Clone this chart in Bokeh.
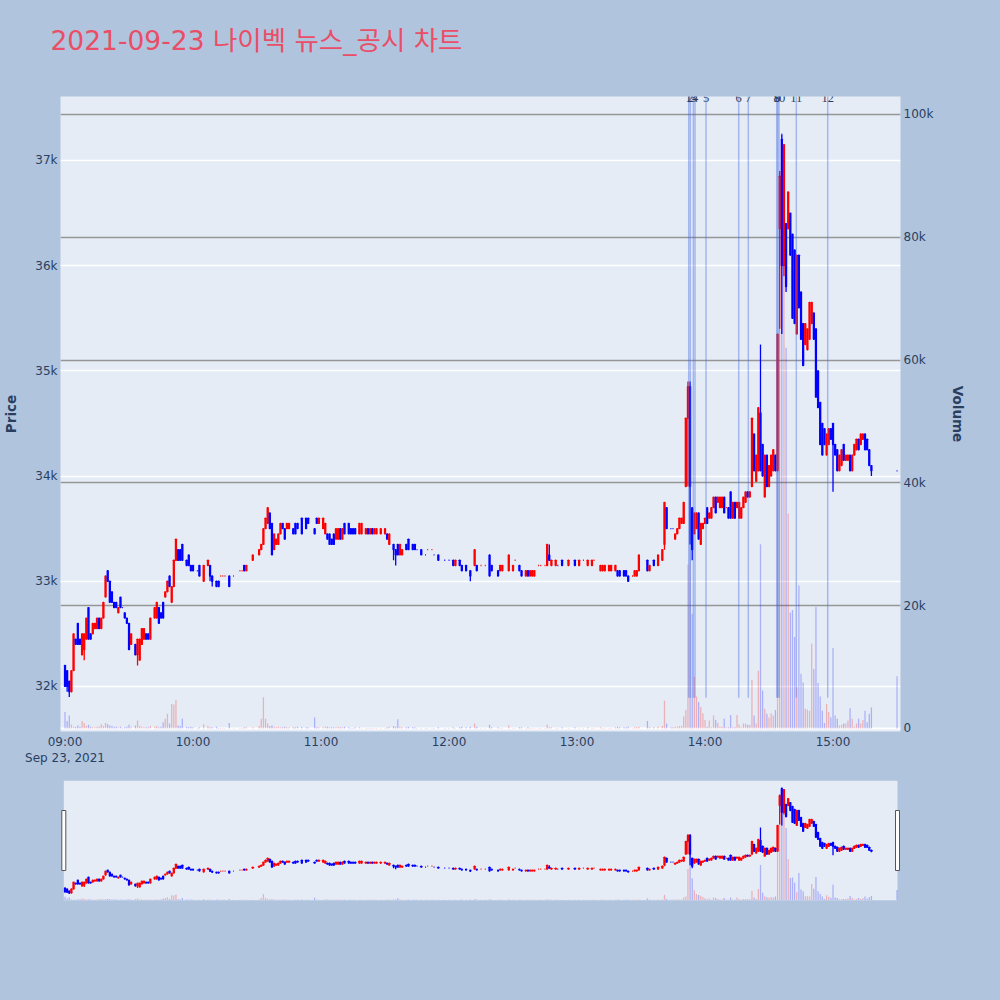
import pandas as pd
from bokeh.plotting import figure
from bokeh.layouts import column
from bokeh.models import (ColumnDataSource, Range1d, LinearAxis, FixedTicker, NumeralTickFormatter,
                          DatetimeTickFormatter, Grid, BoxAnnotation, LabelSet, Span, Title,
                          GlobalInlineStyleSheet)
from bokeh.embed import file_html
from bokeh.resources import INLINE

TITLE = "2021-09-23 나이벡 뉴스_공시 차트"
DAY = "2021-09-23"

# ---------------- 1-minute candles (time, open, high, low, close, volume) ----------------
T09 = ["09:00","09:01","09:02","09:03","09:04","09:05","09:06","09:07","09:08","09:09",
       "09:10","09:11","09:12","09:13","09:14","09:15","09:16","09:17","09:18","09:19",
       "09:20","09:21","09:22","09:23","09:24","09:25","09:26","09:27","09:28","09:29",
       "09:30","09:31","09:33","09:34","09:35","09:36","09:37","09:38","09:39","09:40",
       "09:42","09:43","09:44","09:45","09:46","09:47","09:48","09:49","09:50","09:51",
       "09:52","09:53","09:54","09:55","09:57","09:58","09:59"]
O09 = [32200,32150,32050,31950,32150,32450,32600,32450,32300,32350,
       32450,32750,32500,32500,32550,32550,32650,32550,32650,32850,
       33100,33000,32900,32800,32800,32700,32850,32750,32700,32650,
       32600,32400,32400,32300,32250,32400,32450,32500,32500,32450,
       32650,32650,32750,32700,32800,32850,32900,33050,32800,32950,
       33200,33300,33300,33350,33200,33250,33150]
H09 = [32200,32150,32050,32150,32500,32450,32600,32450,32500,32500,
       32650,32750,32500,32600,32600,32650,32650,32650,32800,33050,
       33100,33000,32900,32800,32800,32750,32850,32750,32700,32650,
       32600,32500,32400,32450,32450,32550,32550,32500,32500,32650,
       32750,32800,32750,32700,32800,32900,33000,33050,32950,33200,
       33400,33300,33300,33350,33200,33250,33150]
L09 = [32000,31950,31900,31950,32150,32400,32400,32400,32300,32250,
       32450,32450,32450,32500,32550,32550,32550,32550,32650,32850,
       33000,32800,32800,32750,32750,32700,32750,32750,32650,32600,
       32350,32400,32300,32200,32250,32400,32450,32450,32450,32450,
       32650,32650,32600,32650,32650,32850,32900,32950,32800,32950,
       33200,33200,33200,33200,33150,33150,33100]
C09 = [32000,32000,31950,32150,32500,32400,32400,32400,32500,32500,
       32650,32450,32450,32600,32600,32650,32550,32650,32800,33050,
       33000,32800,32800,32750,32750,32750,32750,32750,32650,32600,
       32350,32500,32300,32450,32450,32550,32550,32450,32450,32650,
       32750,32800,32600,32650,32650,32900,33000,32950,32950,33200,
       33400,33200,33200,33200,33150,33150,33100]
V09 = [2700,1200,2100,650,300,250,500,300,1200,900,
       400,600,300,200,200,300,300,700,400,900,
       700,500,400,300,300,200,300,100,200,300,
       600,300,500,1300,400,300,200,200,200,400,
       300,400,200,300,1000,1600,2400,800,4000,3900,
       4600,500,400,1600,300,200,300]

T10 = ["10:00","10:02","10:03","10:05","10:07","10:08","10:09","10:11","10:12","10:13",
       "10:14","10:15","10:17","10:19","10:22","10:23","10:24","10:25","10:28","10:31",
       "10:32","10:33","10:34","10:35","10:36","10:37","10:38","10:39","10:40","10:41",
       "10:42","10:43","10:44","10:45","10:47","10:48","10:49","10:51","10:53","10:54",
       "10:57","10:58","10:59"]
O10 = [33150,33100,33150,33000,33150,33150,33050,33000,33000,33050,
       33050,33050,33050,33050,33100,33100,33150,33100,33200,33250,
       33300,33350,33500,33550,33650,33550,33300,33350,33350,33450,
       33550,33500,33500,33500,33500,33550,33550,33600,33600,33600,
       33500,33600,33550]
H10 = [33150,33100,33150,33150,33200,33150,33050,33000,33000,33050,
       33050,33050,33050,33050,33100,33100,33150,33150,33250,33300,
       33350,33500,33600,33700,33650,33550,33450,33400,33450,33550,
       33550,33500,33550,33550,33500,33550,33550,33600,33600,33600,
       33500,33600,33600]
L10 = [33100,33100,33050,33000,33150,33000,32950,32950,32950,33050,
       33050,33050,32950,33050,33100,33100,33100,33100,33200,33250,
       33300,33350,33500,33550,33500,33250,33300,33350,33350,33450,
       33500,33400,33500,33500,33450,33450,33500,33450,33500,33550,
       33450,33550,33550]
C10 = [33100,33100,33050,33150,33200,33050,33000,32950,32950,33050,
       33050,33050,32950,33050,33100,33100,33100,33150,33250,33300,
       33350,33500,33600,33700,33500,33250,33450,33400,33450,33550,
       33500,33400,33550,33550,33450,33450,33500,33450,33500,33550,
       33450,33550,33600]
V10 = [200,100,200,700,400,200,200,300,100,100,
       100,100,900,100,100,100,200,200,200,400,
       1600,5100,1600,800,400,500,300,200,300,200,
       200,300,200,200,200,200,300,300,200,200,
       1800,200,200]

T11 = ["11:01","11:02","11:03","11:04","11:05","11:06","11:07","11:08","11:09","11:10",
       "11:11","11:13","11:14","11:15","11:16","11:18","11:19","11:21","11:22","11:23",
       "11:24","11:25","11:26","11:28","11:30","11:31","11:32","11:34","11:35","11:36",
       "11:37","11:38","11:40","11:41","11:43","11:44","11:45","11:47","11:49","11:50",
       "11:52","11:53","11:55","11:58"]
O11 = [33500,33450,33450,33450,33400,33450,33400,33400,33500,33400,
       33550,33550,33500,33500,33500,33450,33450,33450,33500,33450,
       33500,33450,33450,33450,33450,33450,33350,33350,33300,33350,
       33250,33250,33350,33400,33350,33350,33300,33300,33250,33300,
       33300,33250,33250,33200]
H11 = [33600,33550,33450,33450,33400,33450,33500,33500,33500,33500,
       33550,33550,33500,33500,33500,33550,33550,33500,33500,33500,
       33500,33500,33500,33500,33500,33450,33450,33350,33300,33350,
       33350,33300,33350,33400,33350,33350,33300,33300,33250,33300,
       33300,33250,33250,33200]
L11 = [33500,33450,33400,33350,33350,33350,33400,33400,33400,33400,
       33450,33450,33450,33450,33450,33450,33450,33450,33450,33450,
       33450,33450,33450,33450,33450,33400,33350,33200,33150,33250,
       33250,33250,33300,33300,33300,33300,33300,33250,33250,33300,
       33300,33250,33200,33200]
C11 = [33600,33550,33400,33350,33350,33350,33500,33500,33400,33500,
       33450,33450,33450,33450,33450,33550,33550,33500,33450,33500,
       33450,33500,33500,33500,33500,33400,33450,33300,33250,33250,
       33350,33300,33300,33300,33300,33300,33300,33250,33250,33300,
       33300,33250,33200,33200]
V11 = [200,300,300,200,200,200,200,300,200,200,
       300,200,100,100,200,200,100,100,100,100,
       100,100,100,100,100,200,300,400,300,1500,
       300,200,200,300,200,200,100,100,100,100,
       100,100,200,100]

T12 = ["12:00","12:02","12:03","12:05","12:06","12:08","12:10","12:12","12:13","12:15",
       "12:17","12:19","12:20","12:23","12:24","12:25","12:28","12:30","12:31","12:33",
       "12:34","12:36","12:37","12:38","12:39","12:40","12:42","12:43","12:45","12:46",
       "12:47","12:48","12:50","12:51","12:53","12:56","12:59"]
O12 = [33200,33200,33150,33200,33150,33150,33100,33150,33150,33150,
       33150,33250,33150,33100,33100,33100,33100,33100,33200,33150,
       33100,33050,33100,33050,33050,33050,33150,33150,33150,33150,
       33250,33150,33150,33150,33200,33150,33200]
H12 = [33200,33200,33200,33200,33150,33150,33100,33300,33150,33150,
       33150,33250,33150,33100,33150,33150,33250,33150,33200,33150,
       33100,33100,33100,33100,33100,33100,33150,33150,33150,33350,
       33350,33200,33200,33150,33200,33200,33200]
L12 = [33200,33150,33150,33150,33100,33100,33000,33150,33100,33150,
       33150,33050,33100,33050,33100,33100,33100,33100,33200,33100,
       33050,33050,33050,33050,33050,33050,33150,33150,33150,33150,
       33200,33150,33150,33150,33150,33150,33150]
C12 = [33200,33150,33200,33150,33100,33100,33050,33300,33100,33150,
       33150,33050,33100,33050,33150,33150,33250,33150,33200,33100,
       33050,33100,33050,33100,33100,33100,33150,33150,33150,33350,
       33200,33200,33200,33150,33150,33200,33150]
V12 = [100,200,100,200,300,200,300,800,300,100,
       100,600,200,200,100,100,500,100,100,200,
       200,100,200,100,100,100,100,100,100,600,
       200,200,100,100,200,100,200]

T13 = ["13:01","13:03","13:05","13:07","13:08","13:11","13:12","13:13","13:15","13:16",
       "13:18","13:19","13:20","13:22","13:23","13:24","13:26","13:27","13:28","13:29",
       "13:33","13:34","13:36","13:38","13:40","13:41","13:42","13:44","13:45","13:46",
       "13:47","13:48","13:49","13:50","13:51","13:52","13:53","13:54","13:55","13:56",
       "13:57","13:58","13:59"]
O13 = [33150,33200,33150,33150,33200,33100,33100,33100,33100,33100,
       33100,33100,33100,33100,33100,33050,33050,33050,33050,33100,
       33200,33100,33200,33150,33200,33350,33700,33500,33500,33400,
       33450,33500,33550,33550,33900,34550,34850,33700,33450,33500,
       33650,33350,33500]
H13 = [33200,33200,33200,33200,33200,33150,33150,33150,33150,33150,
       33150,33100,33100,33100,33100,33050,33050,33100,33100,33250,
       33200,33150,33200,33250,33300,33750,33700,33500,33500,33450,
       33500,33600,33600,33750,34550,34900,34900,33700,33650,33650,
       33650,33550,33550]
L13 = [33150,33200,33150,33150,33200,33100,33100,33100,33100,33100,
       33100,33050,33050,33050,33050,33000,33050,33050,33050,33100,
       33100,33100,33150,33150,33200,33300,33500,33500,33500,33400,
       33450,33500,33550,33550,33900,33900,33350,33200,33450,33500,
       33400,33350,33500]
C13 = [33200,33200,33200,33200,33200,33150,33150,33150,33150,33150,
       33150,33050,33050,33050,33050,33000,33050,33100,33100,33250,
       33100,33150,33150,33250,33300,33750,33500,33500,33500,33450,
       33500,33600,33600,33750,34550,34850,33900,33300,33650,33650,
       33400,33550,33550]
V13 = [100,100,200,100,100,200,100,100,100,100,
       200,300,200,200,200,300,100,200,200,300,
       1200,300,200,300,400,4500,800,200,200,300,
       300,400,400,2000,3000,26700,56000,18700,8400,5200,
       4300,3500,2500]

T14 = ["14:00","14:01","14:02","14:03","14:04","14:05","14:06","14:07","14:08","14:09",
       "14:10","14:11","14:12","14:13","14:14","14:15","14:16","14:17","14:18","14:19",
       "14:20","14:21","14:22","14:23","14:24","14:25","14:26","14:27","14:28","14:29",
       "14:30","14:31","14:32","14:33","14:34","14:35","14:36","14:37","14:38","14:39",
       "14:40","14:41","14:42","14:43","14:44","14:45","14:46","14:47","14:48","14:49",
       "14:50","14:51","14:52","14:53","14:54","14:55","14:56","14:57","14:58","14:59"]
O14 = [33550,33700,33600,33600,33700,33800,33750,33700,33700,33800,
       33700,33700,33850,33600,33750,33700,33600,33600,33700,33750,
       33850,33800,33900,34400,33950,34050,34600,34300,33800,34200,
       33900,34000,34050,34200,34050,36350,37200,36000,36400,36350,
       36500,36300,36150,35350,36100,35750,35450,35250,35200,35300,
       35450,35550,35400,35000,34700,34500,34450,34200,34300,34450]
H14 = [33600,33700,33650,33700,33800,33800,33800,33800,33800,33800,
       33700,33700,33850,33750,33750,33750,33750,33700,33800,33850,
       33850,33850,34550,34400,34200,34650,35250,34300,34200,34200,
       34100,34200,34250,34200,35350,36900,37250,37150,36400,36700,
       36500,36300,36150,36100,36100,35750,35450,35450,35400,35650,
       35650,35550,35400,35000,34700,34500,34450,34400,34450,34450]
L14 = [33550,33550,33600,33600,33700,33650,33750,33700,33700,33650,
       33700,33600,33600,33600,33600,33700,33600,33600,33700,33750,
       33800,33800,33900,34050,33950,34050,34050,34000,33800,33900,
       33900,34000,34050,34050,34050,35400,35350,35900,35750,36350,
       36100,35500,35450,35350,35600,35300,35050,35250,35200,35300,
       35450,35300,34750,34650,34300,34200,34300,34200,34300,34350]
C14 = [33600,33550,33650,33700,33800,33650,33800,33800,33800,33650,
       33700,33600,33600,33750,33600,33750,33750,33700,33800,33850,
       33800,33850,34550,34050,34200,34650,34050,34000,34200,33900,
       34100,34200,34250,34050,35350,36850,36000,37150,35800,36700,
       36100,35500,35450,36100,35600,35300,35050,35450,35400,35650,
       35650,35300,34750,34650,34300,34200,34300,34400,34450,34350]
V14 = [1400,300,1300,200,2100,1400,900,300,300,1600,
       200,200,2200,200,200,2200,600,200,800,800,
       600,600,7900,2100,800,9400,30000,6200,3200,2400,
       1800,2500,2100,3000,45000,88000,97000,95000,62000,35000,
       18900,19300,14900,6700,23300,8900,7500,3200,3100,2900,
       13800,9700,19800,7400,5200,2900,900,4000,2700,1800]

T15 = ["15:00","15:01","15:02","15:03","15:04","15:05","15:06","15:07","15:08","15:09",
       "15:10","15:11","15:12","15:13","15:14","15:15","15:16","15:17","15:18","15:30"]
O15 = [34500,34300,34250,34050,34100,34300,34150,34150,34200,34050,
       34200,34250,34350,34300,34350,34400,34350,34250,34100,34050]
H15 = [34500,34300,34250,34200,34250,34300,34200,34200,34200,34200,
       34300,34350,34350,34400,34400,34400,34350,34250,34100,34050]
L15 = [33850,34200,34050,34050,34100,34150,34150,34150,34050,34050,
       34200,34250,34250,34300,34350,34250,34250,34100,34000,34050]
C15 = [34300,34200,34050,34200,34250,34150,34200,34200,34050,34200,
       34300,34350,34250,34400,34400,34250,34250,34100,34050,34050]
V15 = [13100,2100,1600,500,600,800,800,1300,3300,1600,
       300,800,1600,800,1400,2900,1000,2400,3400,8500]

# ---------------- news / disclosure markers ----------------
NEWS_TIME = ["13:52:22", "13:53:07", "13:54:31", "13:55:19", "14:00:28", "14:15:48",
             "14:20:18", "14:33:37", "14:34:04", "14:34:42", "14:42:48", "14:57:31"]
NEWS_LABEL = ["1", "2", "3", "4", "5", "6", "7", "8", "9", "10", "11", "12"]
NEWS_BASE = 5000

PRICE_TICKS = [32000, 33000, 34000, 35000, 36000, 37000]
VOLUME_TICKS = [0, 20000, 40000, 60000, 80000, 100000]
HOUR_TICKS = ["09:00", "10:00", "11:00", "12:00", "13:00", "14:00", "15:00"]

# ---------------- assemble ----------------
TIME = T09 + T10 + T11 + T12 + T13 + T14 + T15
OPEN = O09 + O10 + O11 + O12 + O13 + O14 + O15
HIGH = H09 + H10 + H11 + H12 + H13 + H14 + H15
LOW = L09 + L10 + L11 + L12 + L13 + L14 + L15
CLOSE = C09 + C10 + C11 + C12 + C13 + C14 + C15
VOLUME = V09 + V10 + V11 + V12 + V13 + V14 + V15

UP, DOWN = "#FF0000", "#0000FF"
FONT = "DejaVu Sans"
INK = "#2a3f5f"
PAPER = "#B0C4DE"
PLOT_BG = "#E5ECF6"


def ts(s):
    return pd.Timestamp(f"{DAY} {s}")


def ms(s):
    return int(ts(s).value // 10**6)


# plotly-style direction: equal open/close follows change vs previous close
colors = []
inc, prev = True, None
for o, c in zip(OPEN, CLOSE):
    if c == o:
        if prev is not None and c != prev:
            inc = c > prev
    else:
        inc = c > o
    prev = c
    colors.append(UP if inc else DOWN)

src = ColumnDataSource(dict(
    t=[ts(s) for s in TIME], o=OPEN, h=HIGH, l=LOW, c=CLOSE, v=VOLUME,
    top=[max(a, b) for a, b in zip(OPEN, CLOSE)],
    bottom=[min(a, b) for a, b in zip(OPEN, CLOSE)],
    color=colors))

x_window = ("08:57:53", "15:31:38")
price_range = (31572, 37608)
vol_range = (-490, 102930)
CANDLE_W = 27_000
VOL_W = 36_000

# ---------------- main chart ----------------
p = figure(width=1000, height=776, x_axis_type="datetime",
           x_range=Range1d(ts(x_window[0]), ts(x_window[1])),
           y_range=Range1d(*price_range),
           output_backend="svg", toolbar_location=None,
           min_border_left=60, min_border_right=100, min_border_top=96, min_border_bottom=45,
           background_fill_color=PLOT_BG, border_fill_color=PAPER, outline_line_color=None)

# spacer panel between the frame and the title (the title sits outermost)
p.add_layout(Title(text=" ", text_font_size="1px", standoff=28), "above")

p.title.text = TITLE
p.title.text_font = "DejaVu Sans, Noto Sans CJK KR"
p.title.text_font_size = "26.5px"
p.title.text_font_style = "normal"
p.title.text_color = "#EA4E67"
p.title.align = "left"
p.title.offset = -10
p.title.standoff = 20

p.extra_y_ranges = {"vol": Range1d(*vol_range)}
vax = LinearAxis(y_range_name="vol", ticker=FixedTicker(ticks=VOLUME_TICKS),
                 formatter=NumeralTickFormatter(format="0a"), axis_label="Volume")
p.add_layout(vax, "right")

left = p.left[0]
left.ticker = FixedTicker(ticks=PRICE_TICKS)
left.formatter = NumeralTickFormatter(format="0a")
left.axis_label = "Price"

xax = p.below[0]
xax.ticker = FixedTicker(ticks=[ms(h) for h in HOUR_TICKS])
xax.formatter = DatetimeTickFormatter(hours="%H:%M", hourmin="%H:%M", minutes="%H:%M",
                                      days="%H:%M", context="%b %d, %Y", context_which="start")

for ax in (left, vax, xax):
    ax.axis_line_color = None
    ax.major_tick_line_color = None
    ax.minor_tick_line_color = None
    ax.major_tick_out = 0
    ax.major_tick_in = 0
    ax.minor_tick_out = 0
    ax.minor_tick_in = 0
    ax.major_label_standoff = 3
    ax.major_label_text_font = FONT
    ax.major_label_text_font_size = "12px"
    ax.major_label_text_color = INK
    ax.axis_label_text_font = FONT
    ax.axis_label_text_font_size = "13.5px"
    ax.axis_label_text_font_style = "bold"
    ax.axis_label_text_color = INK
left.axis_label_standoff = 13
vax.axis_label_standoff = 14

p.xgrid.visible = False
p.ygrid.grid_line_color = "white"
p.ygrid.grid_line_width = 1.5
p.add_layout(Grid(dimension=1, ticker=FixedTicker(ticks=VOLUME_TICKS[1:]), y_range_name="vol",
                  grid_line_color="#969696", grid_line_width=1.3))
p.add_layout(Span(location=VOLUME_TICKS[0], dimension="width", y_range_name="vol",
                  line_color="white", line_width=2, level="underlay"))

p.vbar(x="t", width=VOL_W, top="v", bottom=0, y_range_name="vol", source=src,
       fill_color="color", fill_alpha=0.25, line_color=None)
p.segment(x0="t", x1="t", y0="l", y1="h", source=src, line_color="color", line_width=1.3)
p.vbar(x="t", width=CANDLE_W, top="top", bottom="bottom", source=src,
       fill_color="color", line_color="color", line_width=1.3)

news_src = ColumnDataSource(dict(
    t=[ts(s) for s in NEWS_TIME], label=NEWS_LABEL,
    y0=[NEWS_BASE] * len(NEWS_TIME), y1=[vol_range[1]] * len(NEWS_TIME),
    ly=[price_range[1]] * len(NEWS_TIME)))
p.segment(x0="t", x1="t", y0="y0", y1="y1", y_range_name="vol", source=news_src,
          line_color="royalblue", line_alpha=0.4, line_width=1.5)
p.add_layout(LabelSet(x="t", y="ly", text="label", source=news_src, text_align="center",
                      text_baseline="middle", y_offset=-1, text_font=FONT,
                      text_font_size="12.5px", text_color=INK))

# ---------------- range slider (frame is aligned with the main chart's frame) ----------------
SLIDER_START, SLIDER_END = "08:59:26", "15:30:14"
s = figure(width=1000, height=134, x_axis_type="datetime",
           x_range=Range1d(ts(x_window[0]), ts(x_window[1])),
           y_range=Range1d(*price_range),
           x_axis_location=None, y_axis_location=None,
           output_backend="svg", toolbar_location=None,
           min_border_left=60, min_border_right=100, min_border_top=4, min_border_bottom=10,
           background_fill_color=PAPER, border_fill_color=PAPER, outline_line_color=None)
s.extra_y_ranges = {"vol": Range1d(*vol_range)}
s.grid.visible = False
s.add_layout(BoxAnnotation(left=ms(SLIDER_START), right=ms(SLIDER_END), fill_color=PLOT_BG,
                           fill_alpha=1, line_color=None, level="underlay"))
s.vbar(x="t", width=VOL_W, top="v", bottom=0, y_range_name="vol", source=src,
       fill_color="color", fill_alpha=0.25, line_color=None)
s.segment(x0="t", x1="t", y0="l", y1="h", source=src, line_color="color", line_width=1.3)
s.vbar(x="t", width=CANDLE_W, top="top", bottom="bottom", source=src,
       fill_color="color", line_color="color", line_width=1.3)
mid = (price_range[0] + price_range[1]) / 2
s.rect(x=[ts(SLIDER_START), ts(SLIDER_END)], y=[mid, mid], width=4, height=60,
       width_units="screen", height_units="screen", fill_color="white",
       line_color="#555555", line_width=1)

layout = column(p, s)
layout.stylesheets = [GlobalInlineStyleSheet(css="html, body { background-color: #B0C4DE; }")]

open("out.html", "w").write(file_html(layout, INLINE, title=TITLE))
